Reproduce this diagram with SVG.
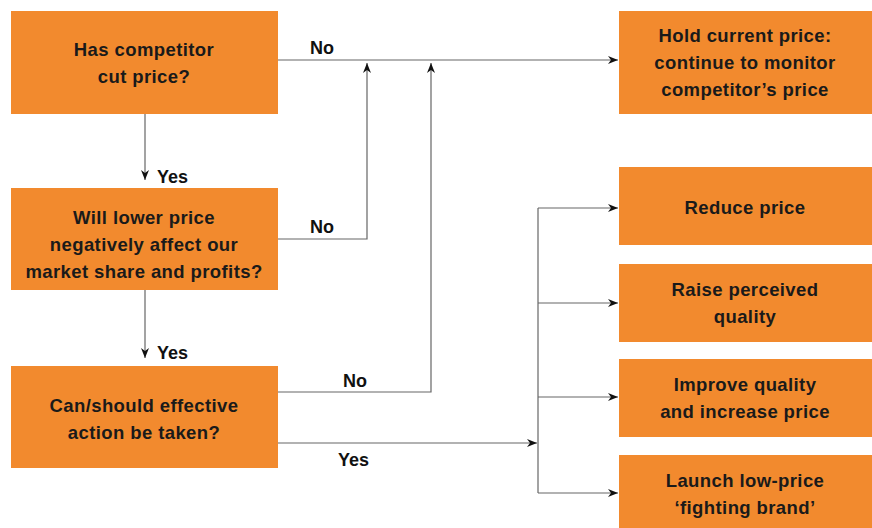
<svg xmlns="http://www.w3.org/2000/svg" width="872" height="528" viewBox="0 0 872 528">
<defs>
<marker id="ah" viewBox="0 0 10 10" refX="10" refY="5" markerWidth="10" markerHeight="10" markerUnits="userSpaceOnUse" orient="auto">
<path d="M0,1 L10,5 L0,9 L3,5 Z" fill="#111"/>
</marker>
<style>
.box{fill:#F28A2E}
.t{font-family:"Liberation Sans",Arial,sans-serif;font-weight:bold;font-size:18.5px;fill:#1a1a1a;text-anchor:middle;letter-spacing:0.4px}
.lbl{font-family:"Liberation Sans",Arial,sans-serif;font-weight:bold;font-size:18px;fill:#111}
.c{fill:none;stroke:#666;stroke-width:1.2}
</style>
</defs>
<rect width="872" height="528" fill="#fff"/>
<g id="q1"><rect class="box" x="11" y="11" width="267" height="103"/>
<text class="t" x="144" y="56">Has competitor</text><text class="t" x="144" y="83">cut price?</text></g>
<g id="q2"><rect class="box" x="11" y="188" width="267" height="102"/>
<text class="t" x="144" y="224">Will lower price</text><text class="t" x="144" y="251">negatively affect our</text><text class="t" x="144" y="278">market share and profits?</text></g>
<g id="q3"><rect class="box" x="11" y="366" width="267" height="102"/>
<text class="t" x="144" y="412">Can/should effective</text><text class="t" x="144" y="439">action be taken?</text></g>
<g id="hold"><rect class="box" x="619" y="11" width="253" height="103"/>
<text class="t" x="745" y="42">Hold current price:</text><text class="t" x="745" y="69">continue to monitor</text><text class="t" x="745" y="96">competitor’s price</text></g>
<g id="reduce"><rect class="box" x="619" y="167" width="253" height="78"/>
<text class="t" x="745" y="214">Reduce price</text></g>
<g id="raise"><rect class="box" x="619" y="264" width="253" height="78"/>
<text class="t" x="745" y="296">Raise perceived</text><text class="t" x="745" y="323">quality</text></g>
<g id="improve"><rect class="box" x="619" y="359" width="253" height="78"/>
<text class="t" x="745" y="391">Improve quality</text><text class="t" x="745" y="418">and increase price</text></g>
<g id="launch"><rect class="box" x="619" y="455" width="253" height="73"/>
<text class="t" x="745" y="487">Launch low-price</text><text class="t" x="745" y="514">‘fighting brand’</text></g>
<g id="connectors">
<path class="c" d="M278,60 H618" marker-end="url(#ah)"/>
<path class="c" d="M278,239 H367 V63" marker-end="url(#ah)"/>
<path class="c" d="M278,392 H431 V63" marker-end="url(#ah)"/>
<path class="c" d="M145,114 V180" marker-end="url(#ah)"/>
<path class="c" d="M145,290 V358" marker-end="url(#ah)"/>
<path class="c" d="M278,443 H537" marker-end="url(#ah)"/>
<path class="c" d="M538,208 V493"/>
<path class="c" d="M538,208 H618" marker-end="url(#ah)"/>
<path class="c" d="M538,303 H618" marker-end="url(#ah)"/>
<path class="c" d="M538,397 H618" marker-end="url(#ah)"/>
<path class="c" d="M538,493 H618" marker-end="url(#ah)"/>
<text class="lbl" x="310" y="54">No</text>
<text class="lbl" x="310" y="233">No</text>
<text class="lbl" x="343" y="387">No</text>
<text class="lbl" x="338" y="466">Yes</text>
<text class="lbl" x="157" y="183">Yes</text>
<text class="lbl" x="157" y="359">Yes</text>
</g>
</svg>
